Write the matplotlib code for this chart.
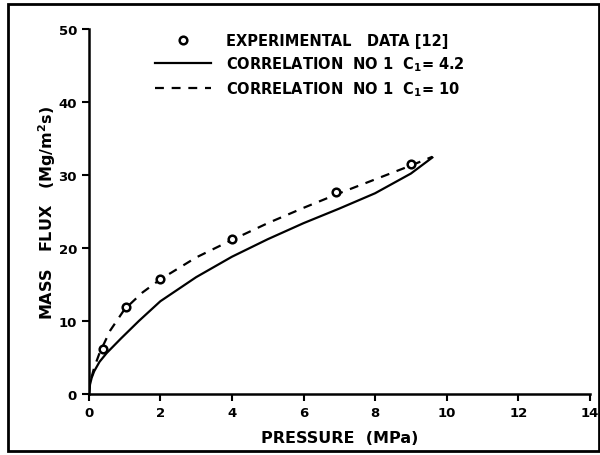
import matplotlib.pyplot as plt
from matplotlib.patches import Rectangle

# experimental data [12]
exp_p = [0.4, 1.05, 2.0, 4.0, 6.9, 9.0]
exp_g = [6.1, 11.9, 15.7, 21.2, 27.7, 31.5]

# correlation no 1, C1 = 4.2 (solid)
sol_p = [0.0, 0.03, 0.08, 0.15, 0.3, 0.5, 0.9, 1.4, 2.0, 3.0, 4.0, 5.0, 6.0, 7.0, 8.0, 9.0, 9.6]
sol_g = [0.0, 1.2, 2.2, 3.1, 4.4, 5.6, 7.6, 10.0, 12.7, 16.0, 18.8, 21.2, 23.4, 25.4, 27.5, 30.2, 32.4]

# correlation no 1, C1 = 10 (dashed)
das_p = [0.0, 0.05, 0.15, 0.3, 0.6, 1.0, 1.5, 2.0, 3.0, 4.0, 5.0, 6.0, 7.0, 8.0, 9.0, 9.6]
das_g = [0.0, 1.8, 3.6, 5.6, 8.7, 11.6, 13.9, 15.7, 18.7, 21.1, 23.4, 25.5, 27.5, 29.4, 31.3, 32.5]

x_ticks = [0, 2, 4, 6, 8, 10, 12, 14]
y_ticks = [0, 10, 20, 30, 40, 50]

plt.rcParams['font.family'] = ['DejaVu Sans']
plt.rcParams['font.weight'] = 'bold'

fig = plt.figure(figsize=(6, 4.56), dpi=100)
ax = fig.add_axes([0.148, 0.134, 0.835, 0.80])

ax.plot(sol_p, sol_g, color='black', lw=1.6, label='CORRELATION  NO 1  C$_1$= 4.2')
ax.plot(das_p, das_g, color='black', lw=1.6, ls=(0, (4, 3.5)), label='CORRELATION  NO 1  C$_1$= 10')
ax.plot(exp_p, exp_g, 'o', ms=5.5, mfc='white', mec='black', mew=1.8,
        label='EXPERIMENTAL   DATA [12]')

ax.set_xlim(0, 14)
ax.set_ylim(0, 50)
ax.set_xticks(x_ticks)
ax.set_yticks(y_ticks)
ax.tick_params(direction='out', length=5, width=1.5, labelsize=9.5)
for lab in ax.get_xticklabels() + ax.get_yticklabels():
    lab.set_fontweight('bold')

for s in ['top', 'right']:
    ax.spines[s].set_visible(False)
for s in ['left', 'bottom']:
    ax.spines[s].set_linewidth(1.8)

ax.set_xlabel('PRESSURE  (MPa)', fontsize=11.5, fontweight='bold', labelpad=8)
ax.set_ylabel('MASS   FLUX   (Mg/m$^2$s)', fontsize=11.5, fontweight='bold', labelpad=0)

h, l = ax.get_legend_handles_labels()
order = [2, 0, 1]
ax.legend([h[i] for i in order], [l[i] for i in order], loc='upper left',
          bbox_to_anchor=(0.105, 1.025), frameon=False,
          handlelength=3.9, labelspacing=0.42, handletextpad=1.0,
          prop={'weight': 'bold', 'size': 10.5})

# outer frame of the scanned figure
fig.patches.append(Rectangle((0.013, 0.008), 0.985, 0.982, transform=fig.transFigure,
                             fill=False, lw=2, ec='black'))

fig.savefig('out.png', dpi=100)
